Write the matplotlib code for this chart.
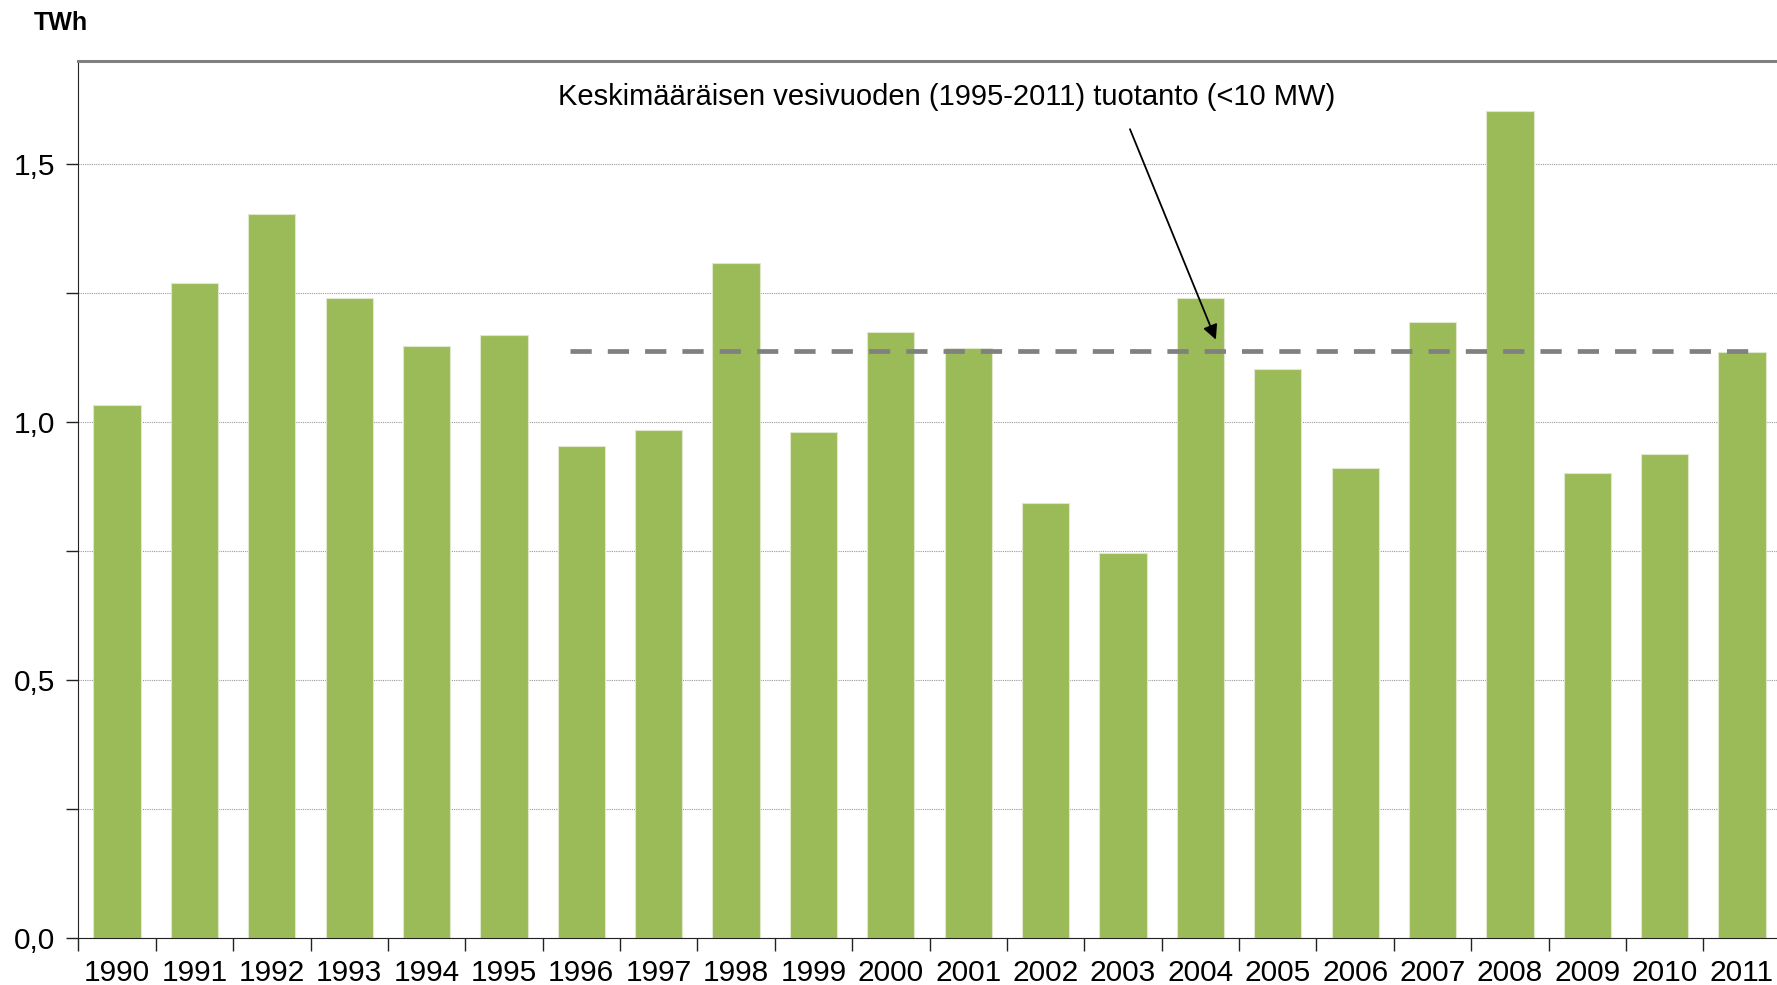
import matplotlib.pyplot as plt
import numpy as np

plt.rcParams['font.family'] = ['Liberation Sans', 'DejaVu Sans']

# data
years = [str(v) for v in range(1990, 2012)]
tuotanto = [1.033, 1.270, 1.404, 1.241, 1.147, 1.169, 0.954, 0.985, 1.309, 0.980,
            1.175, 1.143, 0.844, 0.746, 1.241, 1.103, 0.912, 1.195, 1.603, 0.901,
            0.939, 1.136]
keskiarvo = 1.138
keskiarvo_x = [5.85, 21.1]
y_ticks = [0.0, 0.25, 0.5, 0.75, 1.0, 1.25, 1.5]
y_labels = ['0,0', '', '0,5', '', '1,0', '', '1,5']
teksti = "Keskimääräisen vesivuoden (1995-2011) tuotanto (<10 MW)"

fig = plt.figure(figsize=(17.77, 9.85), dpi=100)
ax = fig.add_axes([0.0441, 0.0477, 0.958, 0.8903])

x = np.arange(len(years))
ax.bar(x, tuotanto, width=0.61, color='#9BBB59', edgecolor='#dfe8cc',
       linewidth=0.8, zorder=2)

# keskiarvo viiva
ax.plot(keskiarvo_x, [keskiarvo, keskiarvo], color='#808080', lw=3.4,
        dashes=(4.5, 3.4), zorder=3)

ax.set_xlim(-0.5, len(years) - 0.5)
ax.set_ylim(0, 1.7)
ax.set_yticks(y_ticks)
ax.set_yticklabels(y_labels, fontsize=21.5)
ax.yaxis.grid(True, color='#999999', linestyle=(0, (1, 1)), linewidth=0.8)
ax.set_axisbelow(True)

ax.set_xticks(np.arange(len(years) + 1) - 0.5, minor=False)
ax.set_xticklabels([])
ax.set_xticks(x, minor=True)
ax.set_xticklabels(years, minor=True, fontsize=21.5)
ax.tick_params(axis='x', which='minor', length=0, pad=15)
ax.tick_params(axis='x', which='major', length=9, width=1, color='#222222')
ax.tick_params(axis='y', length=9, width=1, pad=8, color='#222222')

ax.spines['top'].set_color('#808080')
ax.spines['top'].set_linewidth(2.2)
ax.spines['right'].set_visible(False)
ax.spines['left'].set_color('#222222')
ax.spines['bottom'].set_color('#222222')

ax.text(10.72, 1.631, teksti, ha='center', va='center', fontsize=21)
ax.annotate('', xy=(14.2, 1.16), xytext=(13.09, 1.568),
            arrowprops=dict(arrowstyle='-|>', color='black', lw=1.3,
                            mutation_scale=22, shrinkA=0, shrinkB=0))

fig.text(0.019, 0.977, 'TWh', fontsize=18, fontweight='bold', va='center')

fig.savefig('out.png', dpi=100)
